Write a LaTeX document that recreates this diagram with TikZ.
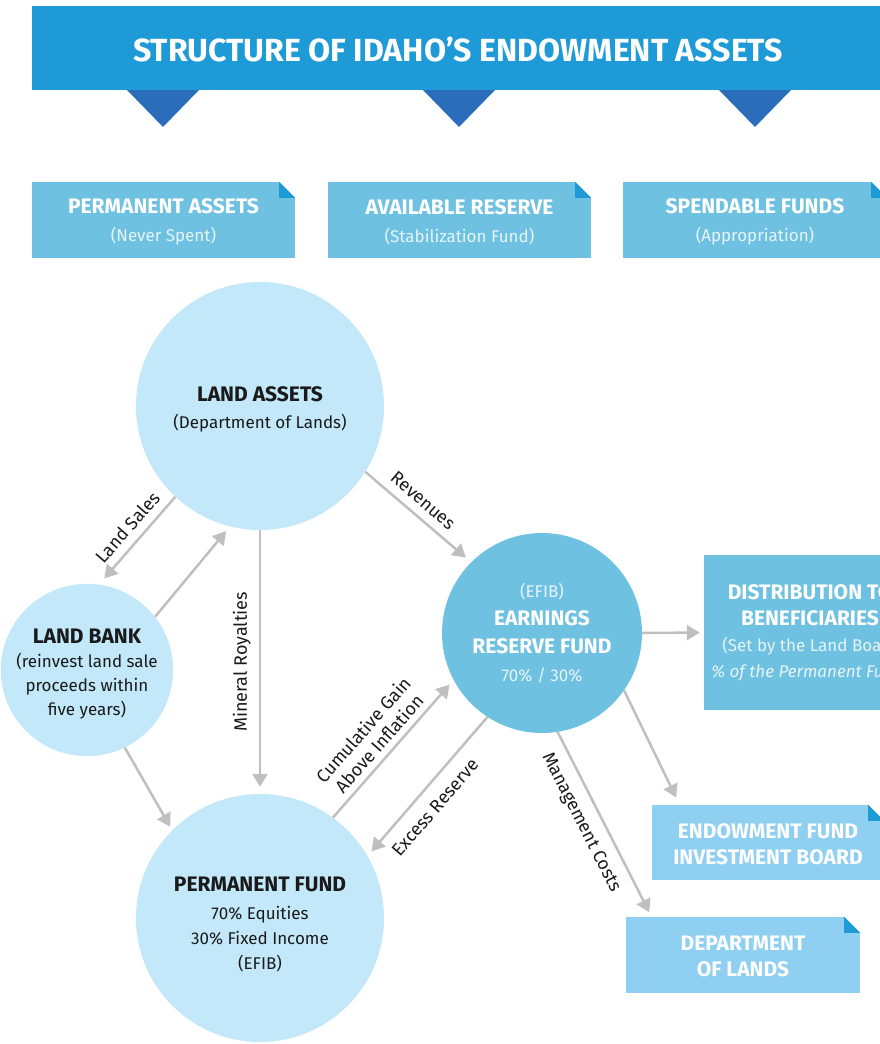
\documentclass[tikz,border=0pt]{standalone}
\usepackage{fontspec}
\usepackage{graphicx}
\setmainfont{Fira Sans}
\usetikzlibrary{arrows.meta,calc}

\definecolor{hdrblue}{HTML}{1E9BD7}
\definecolor{tridark}{HTML}{2A6EBB}
\definecolor{midblue}{HTML}{6EC1E0}
\definecolor{paleblue}{HTML}{C2E8FA}
\definecolor{softblue}{HTML}{8ECFF2}
\definecolor{arrgray}{HTML}{BFBFBF}
\definecolor{txtdark}{HTML}{1A1A1A}
\definecolor{subwhite}{HTML}{E6F4FB}

\newcommand{\headfont}{\fontsize{21}{26}\bfseries\selectfont}
\newcommand{\headtxt}[1]{{\headfont #1}}
\newcommand{\subtxt}[1]{{\color{subwhite}#1}}
\newcommand{\padtop}[1]{\rule{0pt}{#1pt}}

\tikzset{
  circ/.style={circle, fill=#1, inner sep=0pt, align=center, text=txtdark},
  tbox/.style={rectangle, fill=#1, inner sep=0pt, align=center, text=white},
  flow/.style={draw=arrgray, line width=2.5pt, -{Triangle[width=15pt,length=13pt]}},
  lblfont/.style={font=\fontsize{18}{21}\selectfont, text=txtdark, inner sep=8pt, align=center},
  lbl/.style={lblfont, sloped}
}

\newcommand{\dogear}[1]{%
  \fill[white] (#1.north east) -- ++(-16,0) -- ++(16,16) -- cycle;
  \fill[hdrblue] ($(#1.north east)+(-16,0)$) -- ++(16,16) -- ++(-16,0) -- cycle;}

\begin{document}
\begin{tikzpicture}[x=1pt,y=-1pt]
  \useasboundingbox (0,0) rectangle (880,1044);
  \clip (0,0) rectangle (880,1044);

  % header
  \fill[hdrblue] (32,6) rectangle (900,90);
  \node[text=white, font=\fontsize{32}{32}\bfseries\selectfont] (ttl) at (458,50)
    {STRUCTURE OF IDAHO’S ENDOWMENT ASSETS};
  \foreach \x in {163,459,755}
    \fill[tridark] (\x-36,90) -- (\x+36,90) -- (\x,127) -- cycle;

  % top boxes
  \node[tbox=midblue, minimum width=263pt, minimum height=76pt, font=\fontsize{17}{28}\selectfont] (perm) at (163.5,220)
    {\padtop{19.5}\headtxt{PERMANENT ASSETS}\\\subtxt{(Never Spent)}};
  \node[tbox=midblue, minimum width=263pt, minimum height=76pt, font=\fontsize{17}{28}\selectfont] (avail) at (459.5,220)
    {\padtop{19.5}\headtxt{AVAILABLE RESERVE}\\\subtxt{(Stabilization Fund)}};
  \node[tbox=midblue, minimum width=264pt, minimum height=76pt, font=\fontsize{17}{28}\selectfont] (spend) at (755,220)
    {\padtop{19.5}\headtxt{SPENDABLE FUNDS}\\\subtxt{(Appropriation)}};
  \dogear{perm} \dogear{avail} \dogear{spend}

  % circles
  \node[circ=paleblue, minimum size=248pt, font=\fontsize{17}{27}\selectfont] (la) at (260,406)
    {\padtop{21.5}\headtxt{LAND ASSETS}\\(Department of Lands)};
  \node[circ=paleblue, minimum size=166pt, font=\fontsize{17}{24}\selectfont] (lb) at (87,670)
    {\padtop{23.5}\headtxt{LAND BANK}\\(reinvest land sale\\proceeds within\\five years)};
  \node[circ=midblue, minimum size=200pt, text=white, font=\fontsize{17}{28}\selectfont] (erf) at (542,633)
    {\subtxt{(EFIB)}\\\headtxt{EARNINGS}\\\headtxt{RESERVE FUND}\\\subtxt{70\% / 30\%}};
  \node[circ=paleblue, minimum size=248pt, font=\fontsize{17}{25}\selectfont] (pf) at (260,918)
    {\padtop{27.5}\headtxt{PERMANENT FUND}\\[3pt]70\% Equities\\30\% Fixed Income\\(EFIB)};

  % right boxes
  \node[tbox=midblue, minimum width=212pt, minimum height=155pt, font=\fontsize{17}{26}\selectfont] (dist) at (810,632.5)
    {\headtxt{DISTRIBUTION TO}\\\headtxt{BENEFICIARIES}\\\subtxt{(Set by the Land Board}\\\subtxt{\itshape\% of the Permanent Fund)}};
  \node[tbox=softblue, minimum width=232pt, minimum height=75pt, font=\headfont] (efib) at (768,842.5)
    {\padtop{18.5}ENDOWMENT FUND\\INVESTMENT BOARD};
  \node[tbox=softblue, minimum width=234pt, minimum height=76pt, font=\headfont] (dol) at (743,955)
    {\padtop{17.5}DEPARTMENT\\OF LANDS};
  \dogear{efib} \dogear{dol}

  % flows
  \draw[flow, shorten >=8pt] (la.227) -- node[lbl, above, pos=0.47] {Land Sales} (lb.82);
  \draw[flow, shorten >=6pt] (lb.38) -- (la.256);
  \draw[flow, shorten >=7pt] (la.270) -- node[lblfont, rotate=90, anchor=south, pos=0.5] {Mineral Royalties} (pf.90);
  \draw[flow, shorten >=7pt] (la.-32) -- node[lbl, above, pos=0.45] {Revenues} (erf.135);
  \draw[flow, shorten >=4pt] (erf.0) -- (dist.west);
  \draw[flow, shorten >=6pt] (pf.54) -- node[lbl, above, pos=0.47, inner sep=6pt] {Cumulative Gain\\Above Inflation} (erf.208);
  \draw[flow, shorten >=6pt] (erf.237) -- node[lbl, below, pos=0.56, inner sep=12pt] {Excess Reserve} (pf.30);
  \draw[flow, shorten >=8pt] (erf.-35) -- ($(efib.north west)!0.12!(efib.north east)$);
  \draw[flow, shorten >=5pt] (erf.-81) -- node[lbl, below, pos=0.44, inner sep=11pt] {Management Costs} ($(dol.north west)!0.11!(dol.north east)$);
  \draw[flow, shorten >=4pt] (lb.-64) -- (pf.135);
\end{tikzpicture}
\end{document}
